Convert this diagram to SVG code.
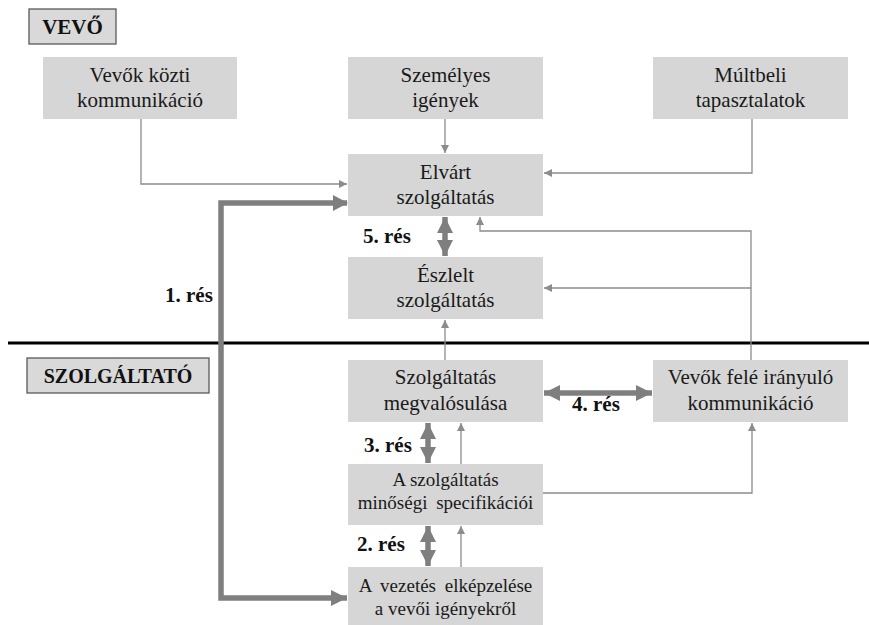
<svg xmlns="http://www.w3.org/2000/svg" width="869" height="625" viewBox="0 0 869 625">
<defs>
<style>
.box{fill:#d6d6d6;}
.lbl{fill:#d9d9d9;stroke:#595959;stroke-width:1.3;}
.thin{fill:none;stroke:#8c8c8c;stroke-width:1.3;}
.thick{fill:none;stroke:#7f7f7f;stroke-width:5.5;}
</style>
<marker id="ah" viewBox="0 0 10 10" refX="10" refY="5" markerWidth="8" markerHeight="8" markerUnits="userSpaceOnUse" orient="auto">
<path d="M0,0 L10,5 L0,10 z" fill="#8c8c8c"/>
</marker>
<marker id="AH" viewBox="0 0 10 10" refX="10" refY="5" markerWidth="16" markerHeight="16" markerUnits="userSpaceOnUse" orient="auto-start-reverse">
<path d="M0,0 L10,5 L0,10 z" fill="#7f7f7f"/>
</marker>
</defs>
<rect width="869" height="625" fill="#fff"/>

<line x1="8" y1="343" x2="869" y2="343" stroke="#000" stroke-width="3.2"/>

<g id="connectors">
<path class="thin" d="M141,119 V184 H347" marker-end="url(#ah)"/>
<path class="thin" d="M445,119 V153" marker-end="url(#ah)"/>
<path class="thin" d="M752,119 V173 H544" marker-end="url(#ah)"/>
<path class="thin" d="M751,360 V231 H480 V217" marker-end="url(#ah)"/>
<path class="thin" d="M751,288 H544" marker-end="url(#ah)"/>
<path class="thin" d="M445,360 V320" marker-end="url(#ah)"/>
<path class="thin" d="M461,464 V423" marker-end="url(#ah)"/>
<path class="thin" d="M461,567 V526" marker-end="url(#ah)"/>
<path class="thin" d="M543,493 H752 V423" marker-end="url(#ah)"/>
<path class="thick" d="M347,203 H221 V598 H347" marker-end="url(#AH)"/>
<line class="thick" x1="445" y1="217" x2="445" y2="256" marker-start="url(#AH)" marker-end="url(#AH)"/>
<line class="thick" x1="428" y1="423" x2="428" y2="463" marker-start="url(#AH)" marker-end="url(#AH)"/>
<line class="thick" x1="428" y1="526" x2="428" y2="566" marker-start="url(#AH)" marker-end="url(#AH)"/>
<line class="thick" x1="544" y1="393" x2="652" y2="393" marker-start="url(#AH)" marker-end="url(#AH)"/>
<polygon points="348,203 333,195 333,211" fill="#7f7f7f"/>
</g>

<g id="vevo">
<rect class="lbl" x="29" y="9" width="87" height="35"/>
<text x="72.5" y="34" font-family="'Liberation Serif', serif" font-size="21" font-weight="bold" fill="#111" text-anchor="middle">VEVŐ</text>
</g>
<g id="szolgaltato">
<rect class="lbl" x="27" y="358" width="182" height="35"/>
<text x="118" y="383" font-family="'Liberation Serif', serif" font-size="20" font-weight="bold" fill="#111" text-anchor="middle">SZOLGÁLTATÓ</text>
</g>

<g id="vevok-kozti">
<rect class="box" x="43" y="57" width="194" height="62"/>
<text x="140" y="82" font-family="'Liberation Serif', serif" font-size="21" fill="#1a1a1a" text-anchor="middle">Vevők közti</text>
<text x="140" y="107" font-family="'Liberation Serif', serif" font-size="21" fill="#1a1a1a" text-anchor="middle">kommunikáció</text>
</g>
<g id="szemelyes">
<rect class="box" x="348" y="57" width="195" height="62"/>
<text x="445.5" y="82" font-family="'Liberation Serif', serif" font-size="21" fill="#1a1a1a" text-anchor="middle">Személyes</text>
<text x="445.5" y="107" font-family="'Liberation Serif', serif" font-size="21" fill="#1a1a1a" text-anchor="middle">igények</text>
</g>
<g id="multbeli">
<rect class="box" x="653" y="57" width="195" height="62"/>
<text x="750.5" y="82" font-family="'Liberation Serif', serif" font-size="21" fill="#1a1a1a" text-anchor="middle">Múltbeli</text>
<text x="750.5" y="107" font-family="'Liberation Serif', serif" font-size="21" fill="#1a1a1a" text-anchor="middle">tapasztalatok</text>
</g>
<g id="elvart">
<rect class="box" x="348" y="154" width="195" height="62"/>
<text x="445.5" y="179" font-family="'Liberation Serif', serif" font-size="21" fill="#1a1a1a" text-anchor="middle">Elvárt</text>
<text x="445.5" y="204" font-family="'Liberation Serif', serif" font-size="21" fill="#1a1a1a" text-anchor="middle">szolgáltatás</text>
</g>
<g id="eszlelt">
<rect class="box" x="348" y="257" width="195" height="62"/>
<text x="445.5" y="282" font-family="'Liberation Serif', serif" font-size="21" fill="#1a1a1a" text-anchor="middle">Észlelt</text>
<text x="445.5" y="307" font-family="'Liberation Serif', serif" font-size="21" fill="#1a1a1a" text-anchor="middle">szolgáltatás</text>
</g>
<g id="megvalosulas">
<rect class="box" x="348" y="360" width="195" height="62"/>
<text x="445.5" y="384" font-family="'Liberation Serif', serif" font-size="21" fill="#1a1a1a" text-anchor="middle">Szolgáltatás</text>
<text x="445.5" y="410" font-family="'Liberation Serif', serif" font-size="21" fill="#1a1a1a" text-anchor="middle">megvalósulása</text>
</g>
<g id="vevok-fele">
<rect class="box" x="653" y="360" width="195" height="62"/>
<text x="750.5" y="384" font-family="'Liberation Serif', serif" font-size="21" fill="#1a1a1a" text-anchor="middle">Vevők felé irányuló</text>
<text x="750.5" y="410" font-family="'Liberation Serif', serif" font-size="21" fill="#1a1a1a" text-anchor="middle">kommunikáció</text>
</g>
<g id="specifikacio">
<rect class="box" x="348" y="464" width="195" height="61"/>
<text x="445.5" y="486" font-family="'Liberation Serif', serif" font-size="19" fill="#1a1a1a" text-anchor="middle">A szolgáltatás</text>
<text x="445.5" y="509" font-family="'Liberation Serif', serif" font-size="19" fill="#1a1a1a" text-anchor="middle" word-spacing="4">minőségi specifikációi</text>
</g>
<g id="vezetes">
<rect class="box" x="348" y="567" width="195" height="58"/>
<text x="445.5" y="592" font-family="'Liberation Serif', serif" font-size="19" fill="#1a1a1a" text-anchor="middle" word-spacing="4">A vezetés elképzelése</text>
<text x="445.5" y="615" font-family="'Liberation Serif', serif" font-size="19" fill="#1a1a1a" text-anchor="middle">a vevői igényekről</text>
</g>

<g id="labels">
<text x="363" y="243" font-family="'Liberation Serif', serif" font-size="21" font-weight="bold" fill="#111">5. rés</text>
<text x="165" y="302" font-family="'Liberation Serif', serif" font-size="21" font-weight="bold" fill="#111">1. rés</text>
<text x="572" y="411" font-family="'Liberation Serif', serif" font-size="21" font-weight="bold" fill="#111">4. rés</text>
<text x="364" y="452" font-family="'Liberation Serif', serif" font-size="21" font-weight="bold" fill="#111">3. rés</text>
<text x="357" y="551" font-family="'Liberation Serif', serif" font-size="21" font-weight="bold" fill="#111">2. rés</text>
</g>
</svg>
